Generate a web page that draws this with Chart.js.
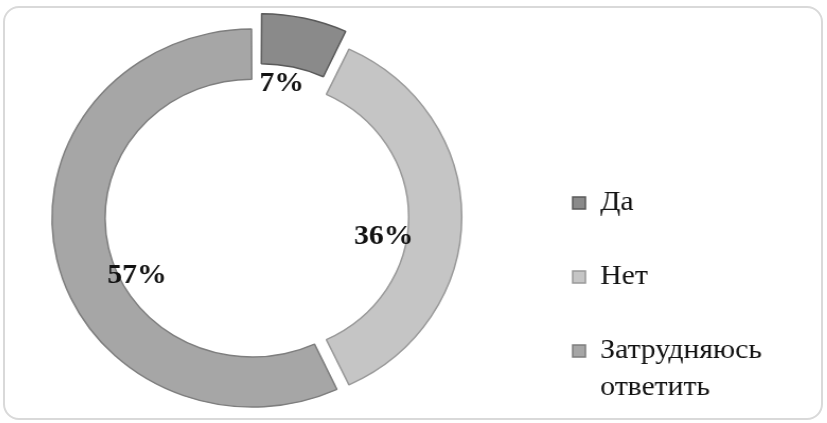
<!DOCTYPE html>
<html>
<head>
<meta charset="utf-8">
<script src="https://cdn.jsdelivr.net/npm/chart.js@4.4.1/dist/chart.umd.min.js"></script>
<style>
  html, body { margin: 0; padding: 0; width: 827px; height: 423px; overflow: hidden; background: #ffffff; }
  #frame { position: absolute; left: 3px; top: 6px; width: 816px; height: 410px; border: 2px solid #d9d9d9; border-radius: 16px; background: #ffffff; }
  #wrap { position: absolute; left: -40px; top: -40px; width: 867px; height: 500px; transform: scaleX(1.06); transform-origin: 0 0; }
  canvas { display: block; }
</style>
</head>
<body>
<div id="frame"></div>
<div id="wrap"><canvas id="c" width="867" height="500"></canvas></div>
<script>
// ---- data ----
const categories = ['Да', 'Нет', ['Затрудняюсь', 'ответить']];
const shares = [7, 36, 57];
// ---- styling ----
const sliceColors = ['#8a8a8a', '#c5c5c5', '#a6a6a6'];
const sliceBorders = ['#5a5a5a', '#999999', '#7e7e7e'];
const sliceOffsets = [50, 28, 20];
const labelNudge = [[-7, 0], [-18, 20], [20, 29]];

const FONT_FAMILY = "'Liberation Serif', 'Times New Roman', serif";
Chart.defaults.font.family = FONT_FAMILY;

// legend geometry (canvas units)
const LEGEND_FONT = 28, LEGEND_PAD = 46, BOX = 12, LINE_H = 1.3;
const CANVAS_W = 867, CANVAS_H = 500;
const legendLeft = 532;
const chartCenterX = 280.7, chartCenterY = 257;
const firstItemTop = 229;
const mctx = document.createElement('canvas').getContext('2d');
mctx.font = LEGEND_FONT + 'px ' + FONT_FAMILY;
let longest = 0, colHeight = 0;
categories.forEach(c => {
  const lines = Array.isArray(c) ? c : [c];
  lines.forEach(l => { longest = Math.max(longest, mctx.measureText(l).width); });
  colHeight += (Array.isArray(c) ? lines.length * LEGEND_FONT * LINE_H : LEGEND_FONT) + LEGEND_PAD;
});
const legendWidth = LEGEND_PAD + BOX + LEGEND_FONT / 2 + longest + 10;
const padRight = CANVAS_W - legendLeft - legendWidth;
const padLeft = 2 * chartCenterX - legendLeft;
const areaBottom = firstItemTop + colHeight;
const padBottom = CANVAS_H - areaBottom;
const padTop = 2 * chartCenterY - areaBottom;

const pctLabels = {
  id: 'pctLabels',
  afterDatasetsDraw(chart) {
    const ctx = chart.ctx;
    const meta = chart.getDatasetMeta(0);
    ctx.save();
    ctx.font = 'bold 28px ' + FONT_FAMILY;
    ctx.fillStyle = '#111111';
    ctx.textAlign = 'center';
    ctx.textBaseline = 'middle';
    meta.data.forEach((arc, i) => {
      const p = arc.getProps(['x', 'y', 'startAngle', 'endAngle', 'innerRadius'], true);
      const mid = (p.startAngle + p.endAngle) / 2;
      const r = p.innerRadius + 3;
      const x = p.x + Math.cos(mid) * r + labelNudge[i][0];
      const y = p.y + Math.sin(mid) * r + labelNudge[i][1];
      ctx.fillText(shares[i] + '%', x, y);
    });
    ctx.restore();
  }
};

new Chart(document.getElementById('c'), {
  type: 'doughnut',
  data: {
    labels: categories,
    datasets: [{
      data: shares,
      backgroundColor: sliceColors,
      borderColor: sliceBorders,
      borderWidth: 1.5,
      offset: sliceOffsets,
      clip: false
    }]
  },
  options: {
    responsive: false,
    devicePixelRatio: 1,
    animation: false,
    events: [],
    radius: 184,
    cutout: '72.8%',
    layout: { padding: { left: padLeft, right: padRight, top: padTop, bottom: padBottom } },
    plugins: {
      tooltip: { enabled: false },
      legend: {
        position: 'right',
        align: 'end',
        labels: {
          boxWidth: BOX,
          boxHeight: BOX,
          padding: LEGEND_PAD,
          color: '#111111',
          font: { size: LEGEND_FONT, lineHeight: LINE_H, family: FONT_FAMILY }
        }
      }
    }
  },
  plugins: [pctLabels]
});
</script>
</body>
</html>
